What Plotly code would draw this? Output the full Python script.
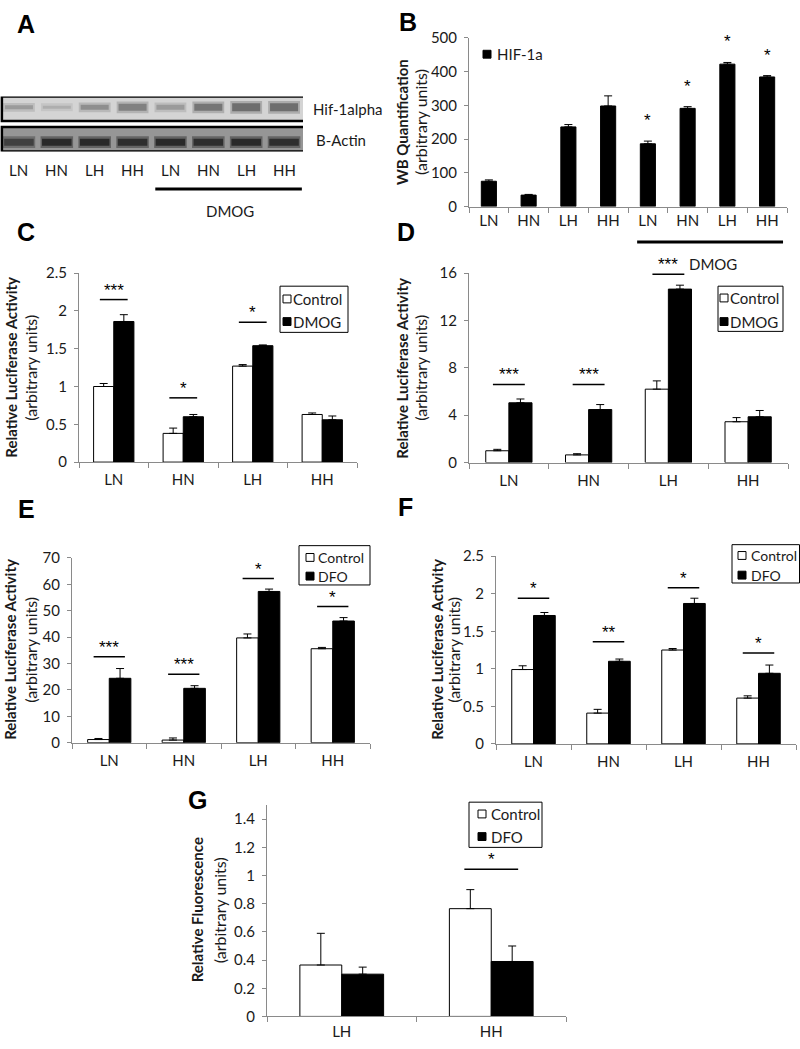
import plotly.graph_objects as go

W, H = 800, 1049
FONT = "Lato"
STAR_FONT = "Liberation Sans"
TXT = "#1a1a1a"
AX = "#8a8a8a"

# ---------------- data ----------------
lanes = ["LN", "HN", "LH", "HH", "LN", "HN", "LH", "HH"]
hif_band_intensity = [0.45, 0.30, 0.55, 0.65, 0.45, 0.75, 0.80, 0.80]
hif_band_thickness = [4, 3, 5, 7, 5, 7, 8, 8]
actin_band_intensity = [0.75, 0.95, 0.95, 0.90, 0.95, 0.90, 0.95, 0.90]

wb_values = [75, 34, 236, 298, 186, 291, 422, 384]
wb_err = [4, 2, 7, 30, 8, 5, 5, 4]
wb_sig = ["", "", "", "", "*", "*", "*", "*"]

groups = ["LN", "HN", "LH", "HH"]

c_control = [1.00, 0.38, 1.27, 0.63]
c_control_err = [0.04, 0.07, 0.02, 0.02]
c_dmog = [1.86, 0.60, 1.54, 0.56]
c_dmog_err = [0.09, 0.03, 0.01, 0.05]
c_sig = ["***", "*", "*", ""]
c_sig_y = [2.15, 0.85, 1.85, None]

d_control = [1.00, 0.65, 6.2, 3.45]
d_control_err = [0.12, 0.10, 0.70, 0.35]
d_dmog = [5.05, 4.48, 14.65, 3.87]
d_dmog_err = [0.32, 0.42, 0.33, 0.53]
d_sig = ["***", "***", "***", ""]
d_sig_y = [6.6, 6.6, 15.9, None]

e_control = [1.2, 1.0, 39.7, 35.6]
e_control_err = [0.4, 0.8, 1.5, 0.5]
e_dfo = [24.4, 20.6, 57.3, 46.1]
e_dfo_err = [3.7, 1.0, 0.9, 1.3]
e_sig = ["***", "***", "*", "*"]
e_sig_y = [32.6, 25.9, 62.2, 51.6]

f_control = [0.99, 0.41, 1.25, 0.61]
f_control_err = [0.05, 0.05, 0.02, 0.03]
f_dfo = [1.71, 1.10, 1.87, 0.94]
f_dfo_err = [0.04, 0.03, 0.07, 0.11]
f_sig = ["*", "**", "*", "*"]
f_sig_y = [1.94, 1.36, 2.08, 1.21]

g_groups = ["LH", "HH"]
g_control = [0.365, 0.765]
g_control_err = [0.225, 0.135]
g_dfo = [0.30, 0.39]
g_dfo_err = [0.05, 0.11]
g_sig = ["", "*"]
g_sig_y = [None, 1.045]


# ---------------- helpers ----------------
def dom_x(a, b):
    return [a / W, b / W]


def dom_y(top, bottom):
    return [1 - bottom / H, 1 - top / H]


def py(p):
    return 1 - p / H


def px(p):
    return p / W


def gray(bg, dark, t):
    v = round(bg + (dark - bg) * t)
    return f"rgb({v},{v},{v})"


fig = go.Figure()
annotations = []
shapes = []

# ---------------- Panel A : western blot ----------------
idx8 = list(range(len(lanes)))
HIF_C, ACT_C = 11, 46.5
fig.add_trace(go.Bar(x=idx8, y=[t + 5 for t in hif_band_thickness],
                     base=[HIF_C - (t + 5) / 2 for t in hif_band_thickness],
                     width=0.84, marker=dict(color=[gray(212, 100, i * 0.45) for i in hif_band_intensity], line_width=0),
                     xaxis="x", yaxis="y", showlegend=False, hoverinfo="skip"))
fig.add_trace(go.Bar(x=idx8, y=hif_band_thickness,
                     base=[HIF_C - t / 2 for t in hif_band_thickness],
                     width=0.74, marker=dict(color=[gray(212, 85, i) for i in hif_band_intensity], line_width=0),
                     xaxis="x", yaxis="y", showlegend=False, hoverinfo="skip"))
fig.add_trace(go.Bar(x=idx8, y=[12] * 8, base=[ACT_C - 6] * 8,
                     width=0.86, marker=dict(color=[gray(150, 60, i * 0.6) for i in actin_band_intensity], line_width=0),
                     xaxis="x", yaxis="y", showlegend=False, hoverinfo="skip"))
fig.add_trace(go.Bar(x=idx8, y=[7] * 8, base=[ACT_C - 3.5] * 8,
                     width=0.78, marker=dict(color=[gray(150, 35, i) for i in actin_band_intensity], line_width=0),
                     xaxis="x", yaxis="y", showlegend=False, hoverinfo="skip"))

shapes.append(dict(type="rect", xref="x", yref="y", x0=-0.45, x1=7.55, y0=0, y1=25,
                   fillcolor="rgb(212,212,212)", line=dict(width=0), layer="below"))
shapes.append(dict(type="rect", xref="x", yref="y", x0=-0.45, x1=7.55, y0=31, y1=56,
                   fillcolor="rgb(150,150,150)", line=dict(width=0), layer="below"))
shapes.append(dict(type="rect", xref="x", yref="y", x0=-0.45, x1=7.55, y0=0, y1=25,
                   fillcolor="rgba(0,0,0,0)", line=dict(color="black", width=2.5)))
shapes.append(dict(type="rect", xref="x", yref="y", x0=-0.45, x1=7.55, y0=31, y1=56,
                   fillcolor="rgba(0,0,0,0)", line=dict(color="black", width=2.5)))
for i, lab in enumerate(lanes):
    annotations.append(dict(x=i, y=py(163), xref="x", yref="paper", text=lab, showarrow=False,
                            yanchor="middle", font=dict(size=15, family=FONT, color=TXT)))
shapes.append(dict(type="line", xref="x", yref="paper", x0=3.6, x1=7.47, y0=py(182), y1=py(182),
                   line=dict(color="black", width=3)))
annotations.append(dict(x=5.57, y=py(205), xref="x", yref="paper", text="DMOG", showarrow=False,
                        yanchor="middle", font=dict(size=15, family=FONT, color=TXT)))
annotations.append(dict(x=px(311), y=py(101), xref="paper", yref="paper", text="Hif-1alpha", showarrow=False,
                        xanchor="left", yanchor="middle", font=dict(size=15, family=FONT, color=TXT)))
annotations.append(dict(x=px(314), y=py(132), xref="paper", yref="paper", text="B-Actin", showarrow=False,
                        xanchor="left", yanchor="middle", font=dict(size=15, family=FONT, color=TXT)))

# ---------------- Panel B ----------------
fig.add_trace(go.Bar(x=idx8, y=wb_values, width=0.38, name="HIF-1a",
                     marker=dict(color="black", line=dict(color="black", width=1)),
                     error_y=dict(type="data", symmetric=False, array=wb_err, arrayminus=[0] * 8,
                                  color="black", thickness=1, width=4),
                     xaxis="x2", yaxis="y2", showlegend=False, hoverinfo="skip"))
for i, s in enumerate(wb_sig):
    if s:
        annotations.append(dict(x=i, y=wb_values[i] + wb_err[i], xref="x2", yref="y2", text=s,
                                showarrow=False, yanchor="bottom", yshift=9,
                                font=dict(size=17, family=STAR_FONT, color="black")))
shapes.append(dict(type="line", xref="x2", yref="paper", x0=3.73, x1=7.4, y0=py(236), y1=py(236),
                   line=dict(color="black", width=3)))
annotations.append(dict(x=5.64, y=py(258), xref="x2", yref="paper", text="DMOG", showarrow=False,
                        yanchor="middle", font=dict(size=15, family=FONT, color=TXT)))


# ---------------- grouped panels ----------------
def grouped(xa, ya, cats, ctrl, ctrl_err, trt, trt_err, trt_name, sig, sig_y, bw=0.29, hw=0.2):
    n = len(cats)
    ix = list(range(n))
    fig.add_trace(go.Bar(x=ix, y=ctrl, width=bw, offset=-bw, name="Control",
                         marker=dict(color="white", line=dict(color="black", width=1)),
                         error_y=dict(type="data", symmetric=False, array=ctrl_err, arrayminus=[0] * n,
                                      color="black", thickness=1, width=4),
                         xaxis=xa, yaxis=ya, showlegend=False, hoverinfo="skip"))
    fig.add_trace(go.Bar(x=ix, y=trt, width=bw, offset=0, name=trt_name,
                         marker=dict(color="black", line=dict(color="black", width=1)),
                         error_y=dict(type="data", symmetric=False, array=trt_err, arrayminus=[0] * n,
                                      color="black", thickness=1, width=4),
                         xaxis=xa, yaxis=ya, showlegend=False, hoverinfo="skip"))
    lx, ly = [], []
    for i, (s, h) in enumerate(zip(sig, sig_y)):
        if s:
            lx += [i - hw, i + hw, None]
            ly += [h, h, None]
            annotations.append(dict(x=i, y=h, xref=xa, yref=ya, text=s, showarrow=False,
                                    yanchor="bottom", yshift=-2,
                                    font=dict(size=17, family=STAR_FONT, color="black")))
    fig.add_trace(go.Scatter(x=lx, y=ly, mode="lines", line=dict(color="black", width=1.5),
                             xaxis=xa, yaxis=ya, showlegend=False, hoverinfo="skip"))


grouped("x3", "y3", groups, c_control, c_control_err, c_dmog, c_dmog_err, "DMOG", c_sig, c_sig_y)
grouped("x4", "y4", groups, d_control, d_control_err, d_dmog, d_dmog_err, "DMOG", d_sig, d_sig_y)
grouped("x5", "y5", groups, e_control, e_control_err, e_dfo, e_dfo_err, "DFO", e_sig, e_sig_y, hw=0.21)
grouped("x6", "y6", groups, f_control, f_control_err, f_dfo, f_dfo_err, "DFO", f_sig, f_sig_y, hw=0.21)
grouped("x7", "y7", g_groups, g_control, g_control_err, g_dfo, g_dfo_err, "DFO", g_sig, g_sig_y,
        bw=0.28, hw=0.18)


# ---------------- legends (Excel-style keys) ----------------
def legend_box(box, sq_left, text_left, rows, labels, fills, fsize=15, border=True):
    l, t, r, b = box
    if border:
        shapes.append(dict(type="rect", xref="paper", yref="paper", x0=px(l), x1=px(r), y0=py(b), y1=py(t),
                           fillcolor="white", line=dict(color="black", width=1)))
    for row, lab, fill in zip(rows, labels, fills):
        shapes.append(dict(type="rect", xref="paper", yref="paper", x0=px(sq_left), x1=px(sq_left + 8),
                           y0=py(row + 4), y1=py(row - 4), fillcolor=fill,
                           line=dict(color="black", width=1)))
        annotations.append(dict(x=px(text_left), y=py(row), xref="paper", yref="paper", text=lab,
                                showarrow=False, xanchor="left", yanchor="middle",
                                font=dict(size=fsize, family=FONT, color=TXT)))


legend_box((0, 0, 0, 0), 483, 495, [45], ["HIF-1a"], ["black"], border=False)
legend_box((280, 281, 348, 328), 283, 291, [294, 317], ["Control", "DMOG"], ["white", "black"])
legend_box((718, 281, 783, 327), 720, 728, [293, 317], ["Control", "DMOG"], ["white", "black"])
legend_box((299, 545, 370, 585), 306, 316, [557, 576], ["Control", "DFO"], ["white", "black"], fsize=14)
legend_box((732, 544, 799.5, 583), 738, 749, [555, 575], ["Control", "DFO"], ["white", "black"], fsize=14)
legend_box((469, 806, 542, 852), 478, 489, [818, 841], ["Control", "DFO"], ["white", "black"])


# ---------------- axes ----------------
def xcfg(domain, cats, anchor, standoff=4):
    n = len(cats)
    return dict(domain=domain, range=[-0.5, n - 0.5], tickmode="array", tickvals=list(range(n)),
                ticktext=cats, ticks="", showline=True, linecolor=AX, linewidth=1, showgrid=False,
                zeroline=False, tickfont=dict(size=15, family=FONT, color=TXT), ticklabelstandoff=standoff,
                minor=dict(tickmode="array", tickvals=[i - 0.5 for i in range(n + 1)], ticks="outside",
                           ticklen=5, tickcolor=AX, showgrid=False),
                anchor=anchor, fixedrange=True)


def ycfg(domain, rng, dtick, anchor):
    return dict(domain=domain, range=rng, dtick=dtick, tick0=0, ticks="outside", ticklen=4, tickcolor=AX,
                showline=True, linecolor=AX, linewidth=1, showgrid=False, zeroline=False,
                tickfont=dict(size=15, family=FONT, color=TXT), ticklabelstandoff=4,
                anchor=anchor, fixedrange=True)


layout = dict(
    width=W, height=H, margin=dict(l=0, r=0, t=0, b=0),
    paper_bgcolor="white", plot_bgcolor="white", barmode="overlay", showlegend=False,
    font=dict(family=FONT, color=TXT),
    xaxis=dict(domain=dom_x(0, 303), range=[-0.5, 7.5], visible=False, anchor="y", fixedrange=True),
    yaxis=dict(domain=dom_y(88, 144), range=[56, 0], visible=False, anchor="x", fixedrange=True),
    xaxis2=xcfg(dom_x(469, 787), lanes, "y2", standoff=0),
    yaxis2=ycfg(dom_y(28.3, 200), [0, 500], 100, "x2"),
    xaxis3=xcfg(dom_x(79, 357), groups, "y3"),
    yaxis3=ycfg(dom_y(267.7, 460), [0, 2.5], 0.5, "x3"),
    xaxis4=xcfg(dom_x(469, 788), groups, "y4"),
    yaxis4=ycfg(dom_y(267.7, 460.5), [0, 16], 4, "x4"),
    xaxis5=xcfg(dom_x(72, 370), groups, "y5"),
    yaxis5=ycfg(dom_y(557.5, 745.5), [0, 70], 10, "x5"),
    xaxis6=xcfg(dom_x(496, 796), groups, "y6"),
    yaxis6=ycfg(dom_y(555.7, 746.7), [0, 2.5], 0.5, "x6"),
    xaxis7=xcfg(dom_x(267, 566), g_groups, "y7", standoff=2),
    yaxis7=ycfg(dom_y(809, 1024), [0, 1.5], 0.2, "x7"),
)

# y-axis titles
titles = [
    ("WB Quantification", 402, 420, 114),
    ("Relative Luciferase Activity", 11, 31, 364),
    ("Relative Luciferase Activity", 402, 421, 364),
    ("Relative Luciferase Activity", 10, 31, 651),
    ("Relative Luciferase Activity", 437, 454, 651),
    ("Relative Fluorescence", 197, 219, 916),
]
for bold, bx, ux, cy in titles:
    annotations.append(dict(x=px(bx), y=py(cy), xref="paper", yref="paper", text=f"<b>{bold}</b>",
                            textangle=-90, showarrow=False, xanchor="center", yanchor="middle",
                            font=dict(size=15, family=FONT, color=TXT)))
    annotations.append(dict(x=px(ux), y=py(cy), xref="paper", yref="paper", text="(arbitrary units)",
                            textangle=-90, showarrow=False, xanchor="center", yanchor="middle",
                            font=dict(size=16, family=FONT, color=TXT)))

# panel letters
for letter, lx_, ly_ in [("A", 26, 14), ("B", 408, 12), ("C", 26, 226), ("D", 406, 226),
                         ("E", 26, 508), ("F", 406, 506), ("G", 197, 804)]:
    annotations.append(dict(x=px(lx_), y=py(ly_), xref="paper", yref="paper", text=f"<b>{letter}</b>",
                            showarrow=False, xanchor="center", yanchor="middle",
                            font=dict(size=25, family="Liberation Sans", color="black")))

layout["annotations"] = annotations
layout["shapes"] = shapes
fig.update_layout(**layout)

fig.write_html("out.html", config={"displayModeBar": False},
               post_script="document.body.style.margin='0px';")
